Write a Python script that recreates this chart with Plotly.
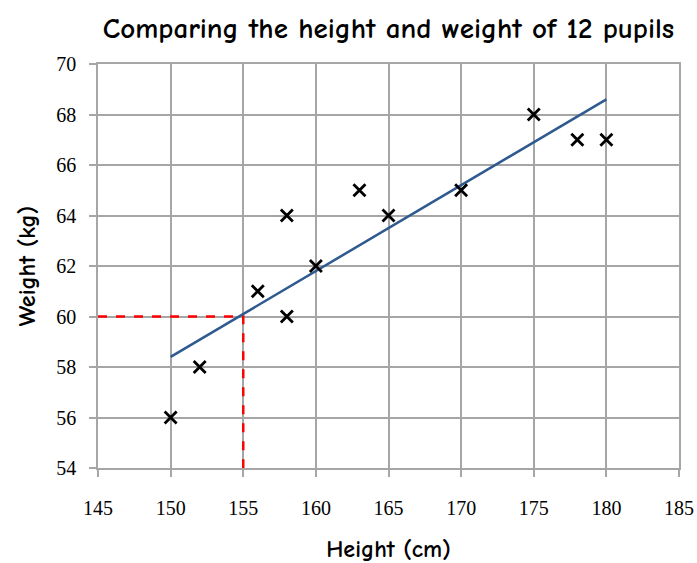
import plotly.graph_objects as go

# pupil measurements
heights = [150, 152, 156, 158, 158, 160, 163, 165, 170, 175, 178, 180]
weights = [56, 58, 61, 64, 60, 62, 65, 64, 65, 68, 67, 67]

# line of best fit (end points)
fit_x = [150, 180]
fit_y = [58.4, 68.6]

# reading guide: 155 cm -> 60 kg
guide_x = [145, 155, 155]
guide_y = [60, 60, 54]

TEXT_FONT = "Comic Sans MS, Comic Neue, Noto Sans, sans-serif"
TICK_FONT = "Liberation Serif, DejaVu Serif, serif"

fig = go.Figure()

fig.add_trace(go.Scatter(
    x=guide_x, y=guide_y,
    mode='lines',
    line=dict(color='#ff0000', width=2.5, dash='dash'),
    hoverinfo='skip'
))

fig.add_trace(go.Scatter(
    x=fit_x, y=fit_y,
    mode='lines',
    line=dict(color='#2f5a8f', width=2.5)
))

fig.add_trace(go.Scatter(
    x=heights, y=weights,
    mode='markers',
    marker=dict(symbol='x-thin', size=12, line=dict(color='black', width=2.8))
))

axis_common = dict(
    automargin=False,
    showgrid=True,
    gridcolor='#a6a6a6',
    gridwidth=1.5,
    showline=True,
    linecolor='#a6a6a6',
    linewidth=1.5,
    mirror=True,
    ticks='outside',
    ticklen=7,
    tickcolor='#a6a6a6',
    tickwidth=1.5,
    zeroline=False,
    tickfont=dict(family=TICK_FONT, size=20, color='black'),
)

fig.update_layout(
    title=dict(
        text="<b>Comparing the height and weight of 12 pupils</b>",
        x=0.5, xref='paper', xanchor='center',
        y=0.95, yanchor='middle', automargin=False,
        font=dict(family=TEXT_FONT, size=29, color='black')
    ),
    xaxis=dict(
        range=[145, 185], dtick=5,
        ticklabelstandoff=14,
        title=dict(text="<b>Height (cm)</b>", standoff=25,
                   font=dict(family=TEXT_FONT, size=24, color='black')),
        **axis_common
    ),
    yaxis=dict(
        range=[54, 70], dtick=2,
        ticklabelstandoff=9,
        title=dict(text="<b>Weight (kg)</b>", standoff=14,
                   font=dict(family=TEXT_FONT, size=24, color='black')),
        **axis_common
    ),
    showlegend=False,
    width=697,
    height=563,
    plot_bgcolor='white',
    paper_bgcolor='white',
    margin=dict(l=98, r=18, t=64, b=95)
)

# drop the default page margin so the figure fills the window exactly
fig.write_html(
    "out.html",
    config={'displayModeBar': False},
    post_script="document.body.style.margin='0';document.body.style.overflow='hidden';"
)
